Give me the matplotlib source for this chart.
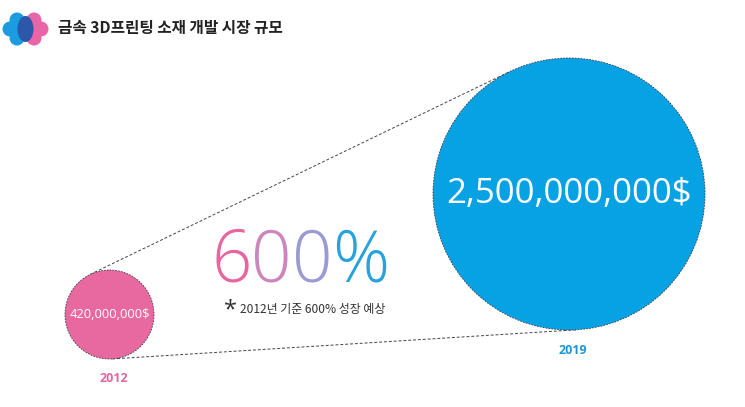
import numpy as np
import matplotlib
matplotlib.use("Agg")
import matplotlib.pyplot as plt
from matplotlib.patches import Circle, Ellipse

# ---- data ----
years = ["2012", "2019"]
values = [420_000_000, 2_500_000_000]
value_labels = ["420,000,000$", "2,500,000,000$"]
growth_label = "600%"
title = "금속 3D프린팅 소재 개발 시장 규모"
note = "2012년 기준 600% 성장 예상"

# ---- style ----
W, H = 745, 407
fig = plt.figure(figsize=(W / 100, H / 100), dpi=100)
ax = fig.add_axes([0, 0, 1, 1])
ax.set_xlim(0, W)
ax.set_ylim(H, 0)
ax.set_aspect("equal")
ax.axis("off")

pink = "#e8699f"
blue = "#07a2e4"
centers = [(109.5, 314.5), (569.0, 194.0)]
radii = [44.5, 136.0]
colors = [pink, blue]
year_colors = ["#e0699f", "#1d96d6"]
label_sizes = [9.3, 25]

kr = ["Noto Sans CJK KR", "DejaVu Sans"]
num = ["Open Sans", "DejaVu Sans"]

# tangent lines (external)
c1, c2 = np.array(centers[0]), np.array(centers[1])
r1, r2 = radii
d = c2 - c1
D = np.hypot(*d)
base = np.arctan2(d[1], d[0])
phi = np.arccos((r1 - r2) / D)
for s in (1, -1):
    a = base + s * phi
    n = np.array([np.cos(a), np.sin(a)])
    p1 = c1 + r1 * n
    p2 = c2 + r2 * n
    ax.plot([p1[0], p2[0]], [p1[1], p2[1]], color="#444444", lw=0.7,
            ls=(0, (3, 2)), zorder=1)

for (cx, cy), r, col, yr, yc, lab, fs in zip(centers, radii, colors, years,
                                              year_colors, value_labels, label_sizes):
    ax.add_patch(Circle((cx, cy), r, facecolor=col, edgecolor="#3a3a4a",
                        lw=0.6, ls=(0, (2, 1.5)), zorder=2))
    ax.text(cx, cy, lab, color="white", fontsize=fs, family=num,
            ha="center", va="center", zorder=3)
    ax.text(cx + 4, cy + r + 20, yr, color=yc, fontsize=9, family=num,
            fontweight="bold", ha="center", va="center", zorder=3)

# growth text, colour shifting per character
g_colors = ["#e8659f", "#cc86bd", "#9a9bd4", "#27a2dc"]
x = 211
fs = 51
for ch, col in zip(growth_label, g_colors):
    t = ax.text(x, 281, ch, color=col, fontsize=fs, family=num, fontweight="light",
                ha="left", va="baseline", zorder=3)
    fig.canvas.draw()
    bb = t.get_window_extent()
    x += bb.width
ax.text(230, 316, "*", color="#333333", fontsize=17, family=num,
        ha="center", va="baseline")
ax.text(240, 310, note, color="#333333", fontsize=8.6, family=kr,
        ha="left", va="center")

# title and logo
ax.text(58, 28, title, color="#222222", fontsize=11.3, family=kr,
        fontweight="bold", ha="left", va="center")
for cx0, col in ((17, "#1b9be0"), (34, "#e866a8")):
    for dx, dy in ((-7, 0), (7, 0), (0, -9), (0, 9)):
        ax.add_patch(Circle((cx0 + dx, 29 + dy), 7.5, facecolor=col,
                            edgecolor="none", zorder=4))
ax.add_patch(Ellipse((25.5, 29), 16, 26, facecolor="#2d57a8", edgecolor="none",
                     zorder=5))

fig.savefig("out.png", dpi=100, facecolor="white")
